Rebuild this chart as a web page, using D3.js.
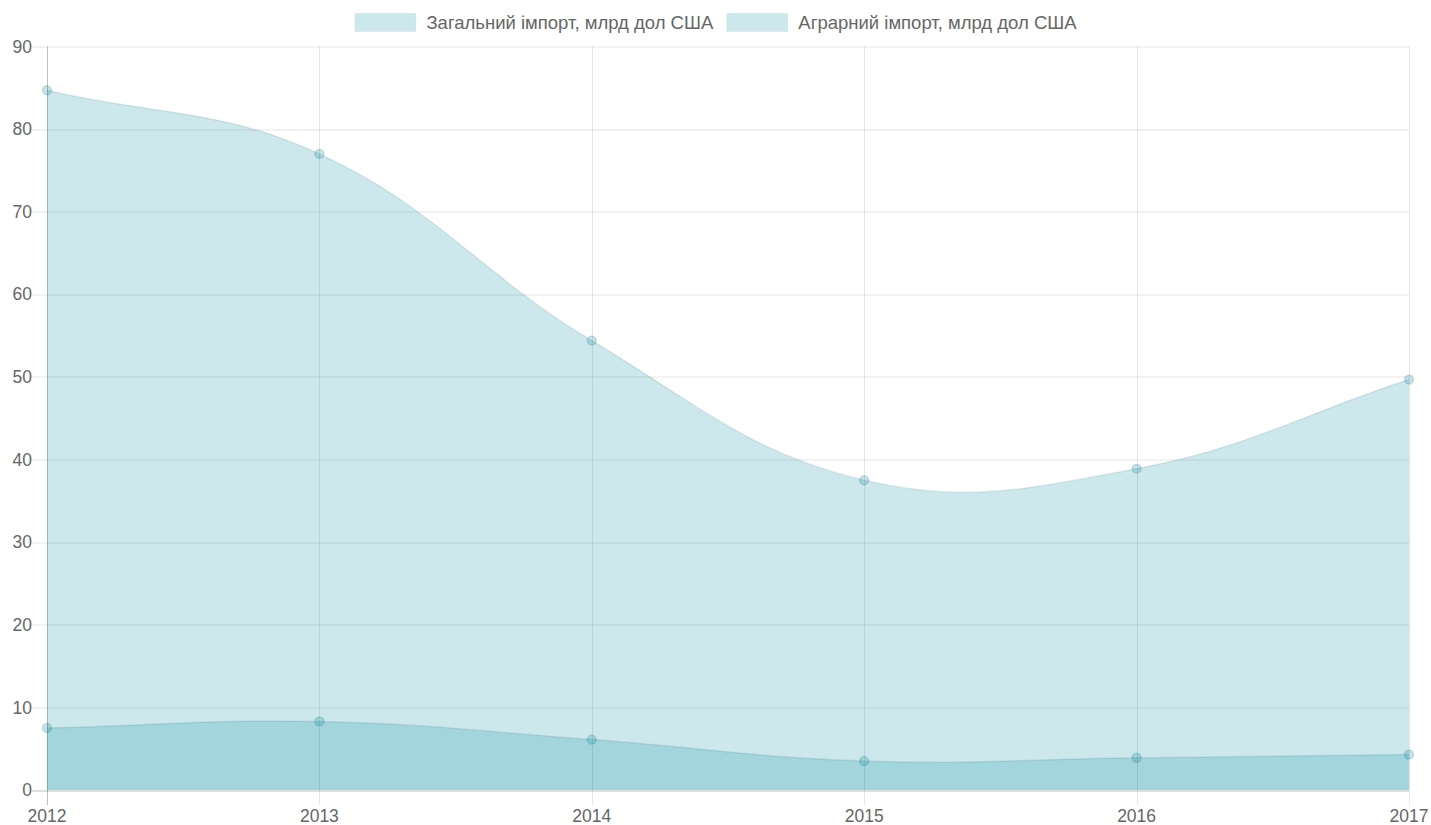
<!DOCTYPE html>
<html>
<head>
<meta charset="utf-8">
<script src="https://cdn.jsdelivr.net/npm/d3@7"></script>
<style>
  body { margin: 0; background: #fff; }
  text { font-family: "Liberation Sans", Arial, sans-serif; fill: #666; }
</style>
</head>
<body>
<div class="canvas"></div>
<script>
const years = ['2012', '2013', '2014', '2015', '2016', '2017'];
const totalImport = [84.7, 77.0, 54.4, 37.5, 38.9, 49.7];
const agroImport = [7.5, 8.3, 6.1, 3.5, 3.9, 4.3];
const yTicks = [0, 10, 20, 30, 40, 50, 60, 70, 80, 90];
const seriesNames = ['Загальний імпорт, млрд дол США', 'Аграрний імпорт, млрд дол США'];

const svgWidth = 1431;
const svgHeight = 825;

const svg = d3.select('.canvas')
    .append('svg')
    .attr('width', svgWidth)
    .attr('height', svgHeight);

const margin = { top: 46.5, right: 22, bottom: 35, left: 47 };
const graphWidth = svgWidth - margin.left - margin.right;
const graphHeight = svgHeight - margin.top - margin.bottom;

const fillColor = 'rgba(0, 140, 160, 0.2)';
const lineColor = 'rgba(40, 90, 100, 0.12)';

const x = d3.scalePoint()
    .domain(years)
    .range([0, graphWidth]);

const y = d3.scaleLinear()
    .domain([0, 90])
    .range([graphHeight, 0]);

const graph = svg.append('g')
    .attr('transform', `translate(${margin.left}, ${margin.top})`);

// grid lines
graph.append('g').selectAll('line')
    .data(yTicks)
    .enter().append('line')
    .attr('x1', -15).attr('x2', graphWidth)
    .attr('y1', d => Math.round(y(d)) + 0.5).attr('y2', d => Math.round(y(d)) + 0.5)
    .attr('stroke', d => d === 0 ? 'rgba(0,0,0,0.25)' : 'rgba(0,0,0,0.1)')
    .attr('stroke-width', 1);

graph.append('g').selectAll('line')
    .data(years)
    .enter().append('line')
    .attr('x1', d => Math.round(x(d)) + 0.5).attr('x2', d => Math.round(x(d)) + 0.5)
    .attr('y1', 0).attr('y2', graphHeight + 15)
    .attr('stroke', (d, i) => i === 0 ? 'rgba(0,0,0,0.25)' : 'rgba(0,0,0,0.1)')
    .attr('stroke-width', 1);

// tick labels
graph.append('g').selectAll('text')
    .data(yTicks)
    .enter().append('text')
    .attr('x', -15)
    .attr('y', d => y(d))
    .attr('dy', '0.35em')
    .attr('text-anchor', 'end')
    .style('font-size', '17.5px')
    .text(d => d);

graph.append('g').selectAll('text')
    .data(years)
    .enter().append('text')
    .attr('x', d => x(d))
    .attr('y', graphHeight + 32)
    .attr('text-anchor', 'middle')
    .style('font-size', '17.5px')
    .text(d => d);

// chart.js style bezier curve (tension 0.4)
function chartCurve(context) {
    let pts = [];
    return {
        areaStart() { this._line = 0; },
        areaEnd() { this._line = NaN; },
        lineStart() { pts = []; },
        lineEnd() {
            const n = pts.length;
            const t = 0.4;
            const cps = pts.map((p, i) => {
                const prev = pts[Math.max(i - 1, 0)];
                const next = pts[Math.min(i + 1, n - 1)];
                const d01 = Math.hypot(p[0] - prev[0], p[1] - prev[1]);
                const d12 = Math.hypot(next[0] - p[0], next[1] - p[1]);
                let s01 = d01 / (d01 + d12), s12 = d12 / (d01 + d12);
                if (isNaN(s01)) s01 = 0;
                if (isNaN(s12)) s12 = 0;
                const fa = t * s01, fb = t * s12;
                const clampY = v => Math.max(0, Math.min(graphHeight, v));
                return {
                    prev: [p[0] - fa * (next[0] - prev[0]), clampY(p[1] - fa * (next[1] - prev[1]))],
                    next: [p[0] + fb * (next[0] - prev[0]), clampY(p[1] + fb * (next[1] - prev[1]))]
                };
            });
            pts.forEach((p, i) => {
                if (i === 0) {
                    this._line ? context.lineTo(p[0], p[1]) : context.moveTo(p[0], p[1]);
                } else {
                    const a = cps[i - 1].next, b = cps[i].prev;
                    context.bezierCurveTo(a[0], a[1], b[0], b[1], p[0], p[1]);
                }
            });
            if (this._line || (this._line !== 0 && n === 1)) context.closePath();
            this._line = 1 - this._line;
        },
        point(px, py) { pts.push([px, py]); }
    };
}

const series = [totalImport, agroImport];

series.forEach(values => {
    const area = d3.area()
        .x((d, i) => x(years[i]))
        .y0(y(0))
        .y1(d => y(d))
        .curve(chartCurve);
    const line = d3.line()
        .x((d, i) => x(years[i]))
        .y(d => y(d))
        .curve(chartCurve);

    graph.append('path')
        .attr('d', area(values))
        .attr('fill', fillColor);

    graph.append('path')
        .attr('d', line(values))
        .attr('fill', 'none')
        .attr('stroke', lineColor)
        .attr('stroke-width', 1.5);
});

series.forEach(values => {
    graph.append('g').selectAll('circle')
        .data(values)
        .enter().append('circle')
        .attr('cx', (d, i) => x(years[i]))
        .attr('cy', d => y(d))
        .attr('r', 4.5)
        .attr('fill', 'rgba(0, 130, 150, 0.22)')
        .attr('stroke', 'rgba(0, 110, 130, 0.18)')
        .attr('stroke-width', 1.5);
});

// legend
const legend = svg.append('g');
let lx = 0;
const items = [];
seriesNames.forEach(name => {
    const g = legend.append('g');
    g.append('rect')
        .attr('x', 0.5).attr('y', 13.5)
        .attr('width', 61).attr('height', 18)
        .attr('fill', fillColor)
        .attr('stroke', 'rgba(0, 110, 130, 0.06)');
    const txt = g.append('text')
        .attr('x', 72)
        .attr('y', 23)
        .attr('dy', '0.35em')
        .style('font-size', '18.5px')
        .text(name);
    const w = 72 + txt.node().getComputedTextLength();
    items.push({ g, w });
});
const gap = 13;
const totalW = d3.sum(items, d => d.w) + gap * (items.length - 1);
lx = (svgWidth - totalW) / 2;
items.forEach(it => {
    it.g.attr('transform', `translate(${lx}, 0)`);
    lx += it.w + gap;
});
</script>
</body>
</html>
